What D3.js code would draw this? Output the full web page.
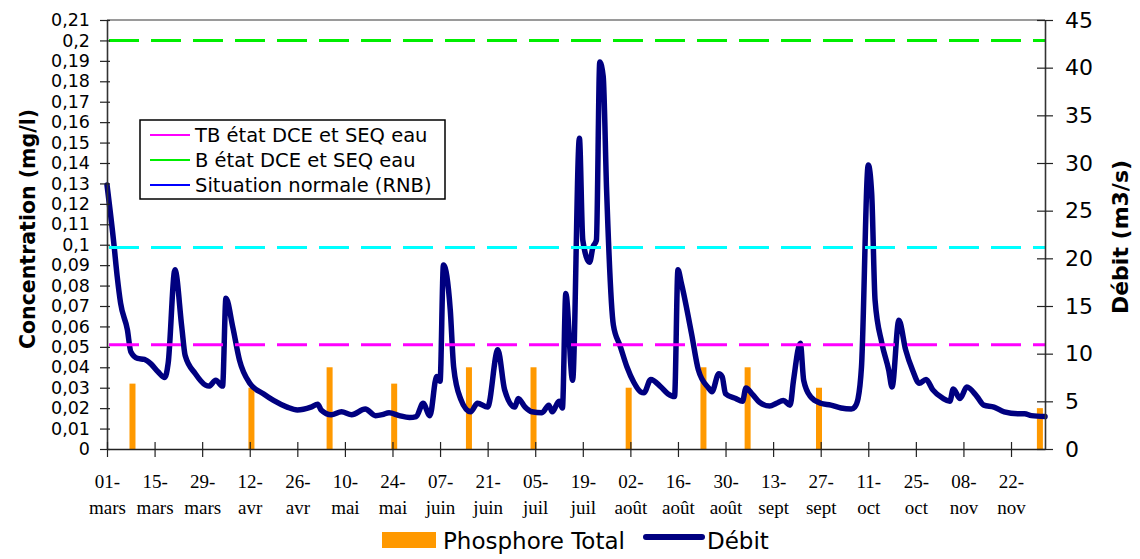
<!DOCTYPE html>
<html>
<head>
<meta charset="utf-8">
<script src="https://cdn.jsdelivr.net/npm/d3@7"></script>
<style>
  html, body { margin: 0; padding: 0; background: #fff; }
  svg { display: block; }
</style>
</head>
<body>
<script>
// ---------- DATA ----------
// x axis tick labels (one every 14 days starting 1 March)
const tickLabels = ["01-mars","15-mars","29-mars","12-avr","26-avr","10-mai","24-mai","07-juin","21-juin","05-juil",
  "19-juil","02-août","16-août","30-août","13-sept","27-sept","11-oct","25-oct","08-nov","22-nov"];
const tickStepDays = 14;
const lastDay = 276; // days after 1 March at the right edge of the plot

// Débit (m3/s): day offset from 1 March and value
const debitDays = [0,2,3,4,6,7,9,11,13,15,
  17,18,20,22,23,26,29,30,32,34,
  35,37,39,42,46,49,53,56,60,62,
  63,66,69,72,76,79,81,83,86,89,
  91,93,95,97,98,99,101,102,104,107,
  109,112,115,117,120,121,123,125,128,130,
  131,133,134,135,137,139,140,142,143,144,
  145,146,147,149,151,153,155,157,158,160,
  163,165,167,168,169,172,174,177,178,180,
  181,182,185,187,188,190,192,195,197,199,
  201,202,204,205,207,210,213,216,219,220,
  221,222,224,225,226,228,230,231,233,235,
  237,239,241,243,246,248,249,251,253,256,
  258,261,264,268,270,272,276];
const debitValues = [27.7,21.6,18.1,15.3,12.5,10.2,9.5,9.4,8.9,8.1,
  7.5,9.0,18.8,12.8,9.8,7.9,6.7,6.6,7.2,6.6,
  15.8,12.8,9.3,6.9,5.8,5.1,4.4,4.1,4.4,4.7,
  4.1,3.6,3.9,3.6,4.2,3.5,3.6,3.8,3.5,3.3,
  3.4,4.8,3.5,7.6,7.1,19.3,14.6,8.6,5.3,3.9,
  4.8,4.4,10.4,6.2,4.4,5.3,4.4,3.9,3.8,4.6,
  3.9,5.0,4.3,16.3,7.2,32.6,21.9,19.6,21.2,21.9,
  40.6,39.1,27.2,13.0,10.8,8.6,7.0,6.0,5.9,7.3,
  6.5,5.8,5.5,18.8,17.4,12.1,8.3,6.4,6.0,7.9,
  7.6,5.8,5.3,5.0,6.4,5.7,4.9,4.5,4.8,5.1,
  4.6,7.2,11.1,7.2,5.5,4.8,4.6,4.3,4.2,4.4,
  5.3,8.6,29.8,26.8,15.6,11.1,8.3,6.5,13.5,10.4,
  8.3,6.9,7.3,6.2,5.3,5.0,6.3,5.3,6.5,5.5,
  4.6,4.4,3.9,3.7,3.7,3.5,3.4];

// Phosphore Total (mg/l): sampling day offset from 1 March and concentration
const phosDays = [7,42,65,84,106,125,153,175,188,209,274];
const phosValues = [0.032,0.030,0.040,0.032,0.040,0.040,0.030,0.040,0.040,0.030,0.020];

// Reference thresholds (mg/l)
const thresholdNames = ["TB état DCE et SEQ eau","B état DCE et SEQ eau","Situation normale (RNB)"];
const thresholdValues = [0.051, 0.2, 0.0986];

// Axis ticks
const concTicks = d3.range(0, 22).map(i => i / 100);
const debitTicks = d3.range(0, 50, 5);

// ---------- LAYOUT / STYLE ----------
const W = 1140, H = 559;
const pLeft = 107, pRight = 1045, pTop = 20, pBottom = 449;
const sans = "DejaVu Sans";
const serif = "Liberation Serif";
const thresholdColors = ["#ff00ff", "#00ee00", "#00ffff"];
const legendColors = ["#ff00ff", "#00ee00", "#0000ff"];

const svg = d3.select("body").append("svg").attr("width", W).attr("height", H);

const x = d3.scaleLinear().domain([0, lastDay]).range([pLeft, pRight]);
const yL = d3.scaleLinear().domain([0, 0.21]).range([pBottom, pTop]);
const yR = d3.scaleLinear().domain([0, 45]).range([pBottom, pTop]);

const locale = d3.formatLocale({decimal: ",", thousands: " ", grouping: [3], currency: ["", "€"]});
const fmt = locale.format("~g");

// top border
svg.append("line").attr("x1", pLeft).attr("x2", pRight).attr("y1", pTop).attr("y2", pTop)
  .attr("stroke", "#9a9a9a").attr("stroke-width", 2);

// bars
svg.append("g").selectAll("rect").data(phosDays.map((d, i) => ({d, v: phosValues[i]})))
  .join("rect")
  .attr("x", p => x(p.d + 0.5) - 3)
  .attr("width", 6)
  .attr("y", p => yL(p.v))
  .attr("height", p => yL(0) - yL(p.v))
  .attr("fill", "#ff9900");

// debit line
const pts = debitDays.map((d, i) => [d, debitValues[i]]);
svg.append("path").datum(pts)
  .attr("fill", "none").attr("stroke", "#000080").attr("stroke-width", 5.5)
  .attr("stroke-linejoin", "round").attr("stroke-linecap", "round")
  .attr("d", d3.line().curve(d3.curveMonotoneX).x(p => x(p[0])).y(p => yR(p[1])));

// thresholds
svg.append("g").selectAll("line").data(thresholdValues).join("line")
  .attr("x1", pLeft + 2).attr("x2", pRight)
  .attr("y1", v => yL(v)).attr("y2", v => yL(v))
  .attr("stroke", (v, i) => thresholdColors[i]).attr("stroke-width", 3)
  .attr("stroke-dasharray", "30,12");

// left axis
const gL = svg.append("g").attr("transform", `translate(${pLeft},0)`)
  .call(d3.axisLeft(yL).tickValues(concTicks).tickFormat(fmt).tickSize(7).tickSizeOuter(0).tickPadding(10));
gL.selectAll(".tick line").attr("x1", 3).attr("stroke", "#222").attr("stroke-width", 1.2);
gL.select(".domain").attr("stroke", "#333").attr("stroke-width", 1.6);
gL.selectAll("text").attr("font-family", sans).attr("font-size", 17.5).attr("fill", "#000");

// right axis
const gR = svg.append("g").attr("transform", `translate(${pRight},0)`)
  .call(d3.axisRight(yR).tickValues(debitTicks).tickSize(8).tickSizeOuter(0).tickPadding(12));
gR.selectAll(".tick line").attr("x1", -8).attr("stroke", "#222").attr("stroke-width", 1.2);
gR.select(".domain").attr("stroke", "#333").attr("stroke-width", 1.6);
gR.selectAll("text").attr("font-family", sans).attr("font-size", 22).attr("fill", "#000");

// bottom axis
const gX = svg.append("g").attr("transform", `translate(0,${pBottom})`)
  .call(d3.axisBottom(x).tickValues(tickLabels.map((_, i) => i * tickStepDays)).tickSize(8).tickSizeOuter(0).tickFormat(""));
gX.selectAll(".tick line").attr("y1", -7).attr("stroke", "#222").attr("stroke-width", 1.2);
gX.select(".domain").attr("stroke", "#222").attr("stroke-width", 1.6);
gX.selectAll(".tick").each(function(d, i) {
  const parts = tickLabels[i].split("-");
  const t = d3.select(this).append("text").attr("fill", "#000")
    .attr("font-family", serif).attr("font-size", 19).attr("text-anchor", "middle");
  t.append("tspan").attr("x", 0).attr("y", 39).text(parts[0] + "-");
  t.append("tspan").attr("x", 0).attr("y", 65).text(parts[1]);
});

// axis titles
svg.append("text").attr("transform", "translate(35,229) rotate(-90)")
  .attr("text-anchor", "middle").attr("font-family", sans).attr("font-weight", "bold")
  .attr("font-size", 20.5).text("Concentration (mg/l)");
svg.append("text").attr("transform", "translate(1128,237) rotate(-90)")
  .attr("text-anchor", "middle").attr("font-family", sans).attr("font-weight", "bold")
  .attr("font-size", 22).text("Débit (m3/s)");

// threshold legend
const lg = svg.append("g");
lg.append("rect").attr("x", 140).attr("y", 120).attr("width", 305).attr("height", 79)
  .attr("fill", "#fff").attr("stroke", "#000").attr("stroke-width", 1.5);
thresholdNames.forEach((name, i) => {
  const cy = 135 + i * 25;
  lg.append("line").attr("x1", 150).attr("x2", 190).attr("y1", cy).attr("y2", cy)
    .attr("stroke", legendColors[i]).attr("stroke-width", 2);
  lg.append("text").attr("x", 195).attr("y", cy).attr("dy", "0.36em")
    .attr("font-family", sans).attr("font-size", 19.5).attr("fill", "#000").text(name);
});

// bottom legend
const bl = svg.append("g");
bl.append("rect").attr("x", 382).attr("y", 532).attr("width", 54).attr("height", 16).attr("fill", "#ff9900");
bl.append("text").attr("x", 443).attr("y", 549).attr("font-family", sans).attr("font-size", 23).text("Phosphore Total");
bl.append("line").attr("x1", 646).attr("x2", 702).attr("y1", 537).attr("y2", 537)
  .attr("stroke", "#000080").attr("stroke-width", 6).attr("stroke-linecap", "round");
bl.append("text").attr("x", 707).attr("y", 549).attr("font-family", sans).attr("font-size", 23).text("Débit");
</script>
</body>
</html>
